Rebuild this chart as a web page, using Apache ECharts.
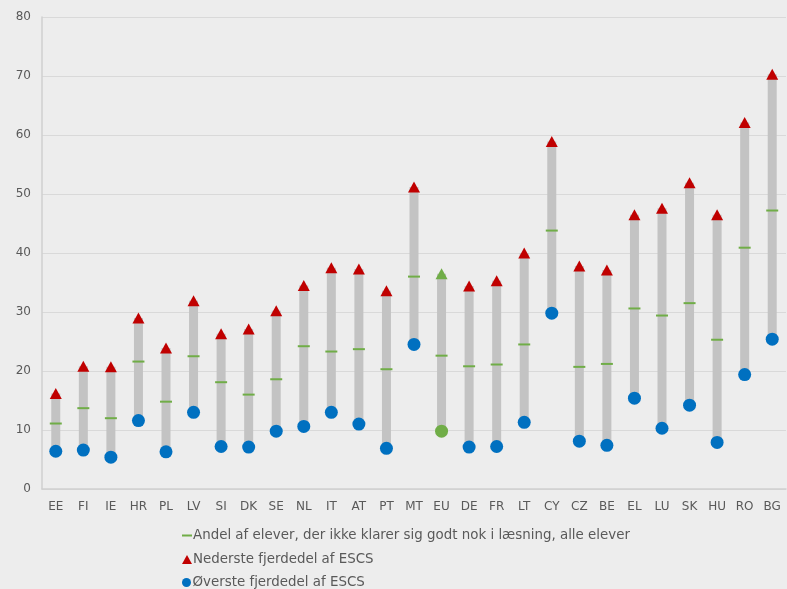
<!DOCTYPE html>
<html>
<head>
<meta charset="utf-8">
<script src="https://cdn.jsdelivr.net/npm/echarts@6/dist/echarts.min.js"></script>
<style>
    html, body { margin: 0; padding: 0; background: #ededed; }
    #chart { width: 787px; height: 589px; }
</style>
</head>
<body>
<div id="chart"></div>
<script>
    // lande
    var countries = ['EE','FI','IE','HR','PL','LV','SI','DK','SE','NL','IT','AT','PT','MT','EU','DE','FR','LT','CY','CZ','BE','EL','LU','SK','HU','RO','BG'];
    // Andel af elever, der ikke klarer sig godt nok i læsning, alle elever
    var allStudents = [11.1,13.7,12.0,21.6,14.8,22.5,18.1,16.0,18.6,24.2,23.3,23.7,20.3,36.0,22.6,20.8,21.1,24.5,43.8,20.7,21.2,30.6,29.4,31.5,25.3,40.9,47.2];
    // Nederste fjerdedel af ESCS
    var bottomQuarter = [16.2,20.8,20.7,29.0,23.9,31.9,26.3,27.1,30.2,34.5,37.5,37.3,33.6,51.2,36.5,34.4,35.3,40.0,58.9,37.8,37.1,46.5,47.6,51.9,46.5,62.1,70.3];
    // Øverste fjerdedel af ESCS
    var topQuarter = [6.4,6.6,5.4,11.6,6.3,13.0,7.2,7.1,9.8,10.6,13.0,11.0,6.9,24.5,9.8,7.1,7.2,11.3,29.8,8.1,7.4,15.4,10.3,14.2,7.9,19.4,25.4];
    var yTicks = [0,10,20,30,40,50,60,70,80];

    var names = [
        'Andel af elever, der ikke klarer sig godt nok i læsning, alle elever',
        'Nederste fjerdedel af ESCS',
        'Øverste fjerdedel af ESCS'
    ];

    var euIdx = countries.indexOf('EU');
    var green = '#70ad47', red = '#c00000', blue = '#0070c0';

    function colored(arr) {
        return arr.map(function (v, i) {
            return i === euIdx ? { value: v, itemStyle: { color: green } } : v;
        });
    }

    function legendRow(name, icon, top) {
        return {
            orient: 'horizontal',
            left: 177,
            top: top,
            itemWidth: 10,
            itemHeight: 9,
            selectedMode: false,
            textStyle: { color: '#595959', fontSize: 13.4, padding: [0, 0, 0, -4] },
            data: [{ name: name, icon: icon }]
        };
    }

    var chart = echarts.init(document.getElementById('chart'));
    chart.setOption({
        backgroundColor: '#ededed',
        animation: false,
        textStyle: { fontFamily: 'DejaVu Sans' },
        grid: { left: 42, right: 1, top: 17, bottom: 100 },
        legend: [
            legendRow(names[0], 'path://M0,4h10v2h-10z', 524),
            legendRow(names[1], 'triangle', 548),
            legendRow(names[2], 'circle', 571)
        ],
        xAxis: {
            type: 'category',
            data: countries,
            axisLine: { lineStyle: { color: '#cfcfcf', width: 1.5 } },
            axisTick: { show: false },
            axisLabel: { color: '#595959', fontSize: 12, margin: 12 }
        },
        yAxis: {
            type: 'value',
            min: yTicks[0],
            max: yTicks[yTicks.length - 1],
            interval: 10,
            axisLine: { show: true, lineStyle: { color: '#cfcfcf', width: 1.5 } },
            axisTick: { show: false },
            splitLine: { lineStyle: { color: '#d9d9d9' } },
            axisLabel: { color: '#595959', fontSize: 12, margin: 11 }
        },
        series: [
            {
                type: 'custom',
                name: 'range',
                data: countries.map(function (c, i) { return [i, topQuarter[i], bottomQuarter[i]]; }),
                encode: { x: 0, y: [1, 2] },
                renderItem: function (params, api) {
                    var lo = api.coord([api.value(0), api.value(1)]);
                    var hi = api.coord([api.value(0), api.value(2)]);
                    var w = 9;
                    return {
                        type: 'rect',
                        shape: { x: lo[0] - w / 2, y: hi[1], width: w, height: lo[1] - hi[1] },
                        style: { fill: '#c3c3c3' }
                    };
                },
                z: 1
            },
            {
                type: 'scatter',
                name: names[0],
                data: allStudents,
                symbol: 'rect',
                symbolSize: [12, 2],
                itemStyle: { color: green, opacity: 1 },
                z: 2
            },
            {
                type: 'scatter',
                name: names[1],
                data: colored(bottomQuarter),
                symbol: 'triangle',
                symbolSize: [12, 11],
                itemStyle: { color: red, opacity: 1 },
                z: 3
            },
            {
                type: 'scatter',
                name: names[2],
                data: colored(topQuarter),
                symbol: 'circle',
                symbolSize: 13,
                itemStyle: { color: blue, opacity: 1 },
                z: 3
            }
        ]
    });
</script>
</body>
</html>
